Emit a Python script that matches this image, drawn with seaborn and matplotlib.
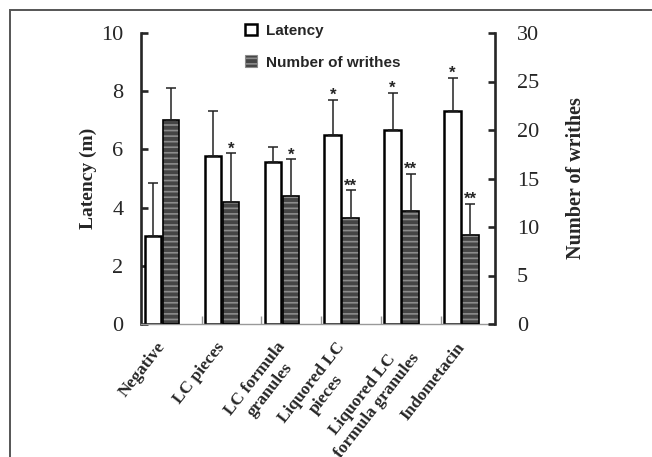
import numpy as np
import pandas as pd
import matplotlib
matplotlib.use('Agg')
import matplotlib.pyplot as plt
import matplotlib.transforms as mtransforms
import seaborn as sns
from matplotlib.patches import Patch, Rectangle

groups = ['Negative', 'LC pieces', 'LC formula\ngranules', 'Liquored LC\npieces',
          'Liquored LC\nformula granules', 'Indometacin']
series = ['Latency', 'Number of writhes']
latency = [3.03, 5.77, 5.56, 6.51, 6.67, 7.32]
latency_sd = [1.82, 1.56, 0.52, 1.20, 1.28, 1.14]
writhes = [21.0, 12.6, 13.2, 10.9, 11.7, 9.2]
writhes_sd = [3.3, 5.0, 3.8, 2.9, 3.8, 3.2]
latency_sig = ['', '', '', '*', '*', '*']
writhes_sig = ['', '*', '*', '**', '**', '**']

sns.set_style('ticks')
plt.rcParams['font.family'] = ['Liberation Serif', 'DejaVu Serif']
plt.rcParams['hatch.linewidth'] = 1.2

df_lat = pd.DataFrame({'group': groups, 'value': latency, 'series': series[0]})
df_wr = pd.DataFrame({'group': groups, 'value': writhes, 'series': series[1]})

fig = plt.figure(figsize=(6.52, 4.57), dpi=100)
ax = fig.add_axes([141.4 / 652, 1 - 324 / 457, 353.4 / 652, 291 / 457])
ax2 = ax.twinx()

pal = {'Latency': 'white', 'Number of writhes': '#454545'}
sns.barplot(data=df_lat, x='group', y='value', hue='series', hue_order=series, order=groups,
            palette=pal, width=0.6, gap=0.08, dodge=True, edgecolor='black', linewidth=1.8,
            errorbar=None, legend=False, ax=ax)
sns.barplot(data=df_wr, x='group', y='value', hue='series', hue_order=series, order=groups,
            palette=pal, width=0.6, gap=0.08, dodge=True, edgecolor='#8c8c8c', linewidth=0,
            hatch='---', errorbar=None, legend=False, ax=ax2)

# black outline over the hatched bars
for p in list(ax2.patches):
    ax2.add_patch(Rectangle(p.get_xy(), p.get_width(), p.get_height(), fill=False,
                            ec='black', lw=1.2, zorder=p.get_zorder() + 0.1))

def bars_of(axis):
    return [c for c in axis.containers if len(c) == len(groups)][0]

# one-sided error bars + significance stars
def add_err(axis, container, means, sds, sig):
    xs = [b.get_x() + b.get_width() / 2 for b in container]
    axis.errorbar(xs, means, yerr=[np.zeros(len(sds)), sds], fmt='none', ecolor='#222222',
                  elinewidth=1.1, capsize=3.5, capthick=1.1, zorder=5)
    for x, m, s, t in zip(xs, means, sds, sig):
        if t:
            axis.annotate(t, (x, m + s), xytext=(0, 3), textcoords='offset points',
                          ha='center', va='center', fontsize=12, fontweight='bold',
                          family='Liberation Sans')

add_err(ax, bars_of(ax), latency, latency_sd, latency_sig)
add_err(ax2, bars_of(ax2), writhes, writhes_sd, writhes_sig)

ax.set_ylim(0, 10)
ax2.set_ylim(0, 30)
ax.set_yticks(range(0, 11, 2))
ax2.set_yticks(range(0, 31, 5))
ax.set_xlim(-0.344, 5.556)

for s in ['top', 'right']:
    ax.spines[s].set_visible(False)
for s in ['top', 'left', 'bottom']:
    ax2.spines[s].set_visible(False)
ax.spines['left'].set_linewidth(1.9)
ax2.spines['right'].set_linewidth(1.9)
ax.spines['bottom'].set_color('#999999')
ax.spines['bottom'].set_linewidth(1.0)

ax.tick_params(axis='y', direction='in', length=5, width=1.9, pad=13, labelsize=16)
ax2.tick_params(axis='y', direction='in', length=5, width=1.9, pad=16, labelsize=16)

ax.set_xticks(range(len(groups)))
ax.set_xticklabels(groups, rotation=52, ha='right', va='top', rotation_mode='anchor',
                   multialignment='center', fontsize=12.5, fontweight='bold')
ax.tick_params(axis='x', which='major', length=0, pad=11)
shift = mtransforms.ScaledTranslation(-6 / 100, 0, fig.dpi_scale_trans)
for lab in ax.get_xticklabels():
    lab.set_transform(lab.get_transform() + shift)
ax.set_xticks([k + 0.66 for k in range(len(groups) - 1)], minor=True)
ax.tick_params(axis='x', which='minor', direction='in', length=6, width=1, color='#999999')

ax.set_xlabel('')
ax.set_ylabel('Latency (m)', fontsize=14, fontweight='bold', labelpad=3)
ax2.set_ylabel('Number of writhes', fontsize=14.5, fontweight='bold', labelpad=19)

handles = [Patch(fc='white', ec='black', lw=1.8),
           Patch(fc='#454545', ec='#8c8c8c', hatch='---', lw=0.8)]
fig.legend(handles, series, loc='upper left', bbox_to_anchor=(231 / 652, 1 - 10 / 457),
           frameon=False, prop={'family': 'Liberation Sans', 'weight': 'bold', 'size': 11},
           handlelength=0.8, handleheight=0.8, labelspacing=1.15, handletextpad=0.6)

fig.add_artist(Rectangle((10 / 652, -0.1), 1.0, 1.1 - 10 / 457, transform=fig.transFigure,
                         fill=False, ec='#555555', lw=1.4))

fig.savefig('out.png', dpi=100)
